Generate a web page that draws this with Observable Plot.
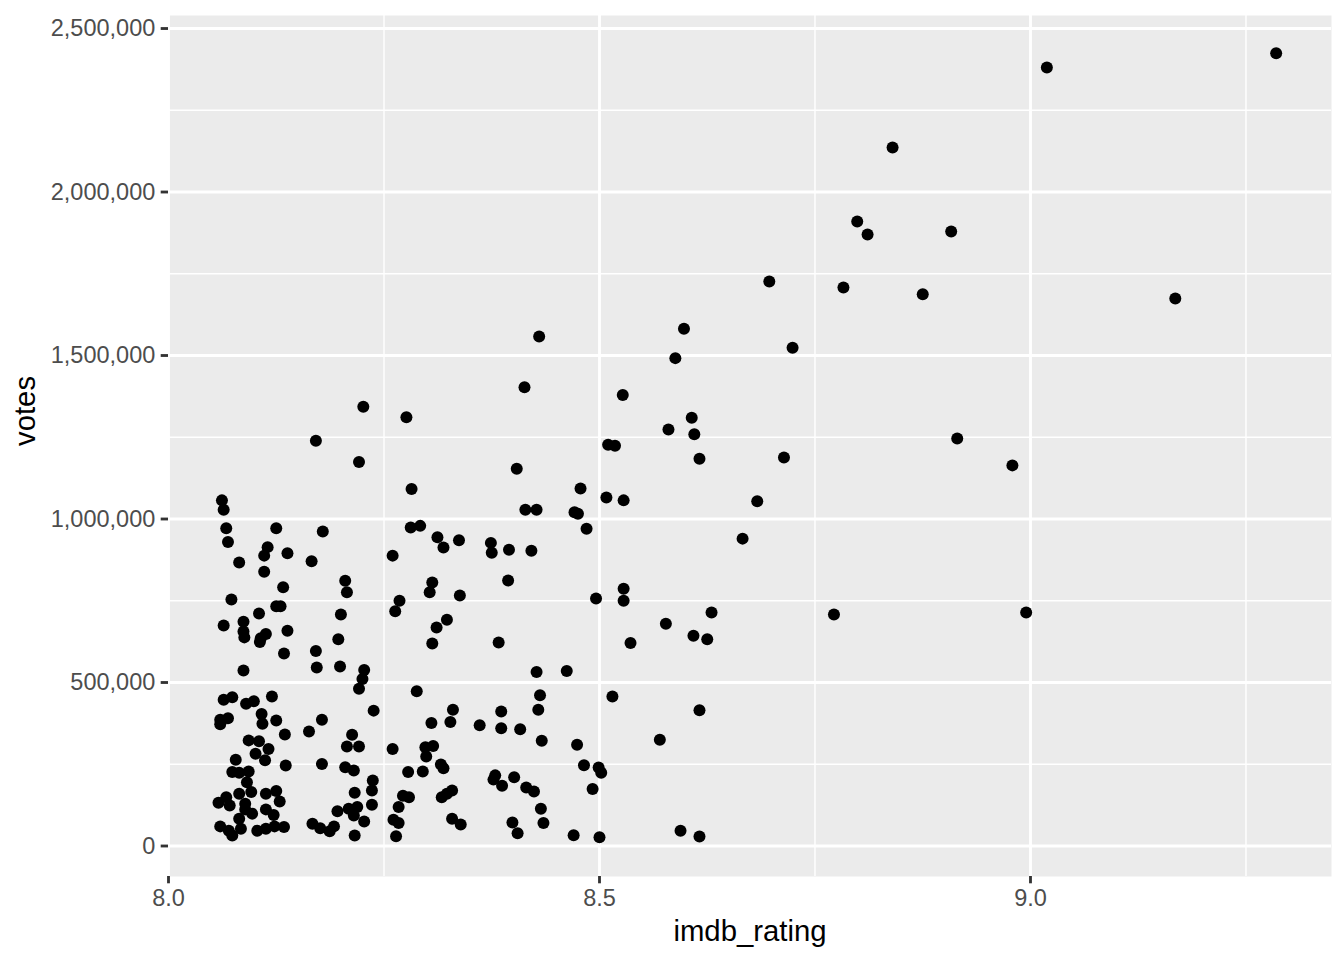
<!DOCTYPE html>
<html>
<head>
<meta charset="utf-8">
<script src="https://cdn.jsdelivr.net/npm/d3@7"></script>
<script src="https://cdn.jsdelivr.net/npm/@observablehq/plot@0.6"></script>
<style>
  html, body { margin: 0; padding: 0; background: #ffffff; }
  #chart { width: 1344px; height: 960px; }
</style>
</head>
<body>
<div id="chart"></div>
<script>
const imdbRating = [
  8.062, 8.064, 8.067, 8.125, 8.179, 8.069, 8.115, 8.111, 8.138, 8.082,
  8.166, 8.111, 8.205, 8.133, 8.207, 8.073, 8.125, 8.130, 8.105, 8.200,
  8.064, 8.087, 8.087, 8.088, 8.113, 8.107, 8.106, 8.138, 8.197, 8.134,
  8.171, 8.087, 8.172, 8.199, 8.227, 8.225, 8.221, 8.238, 8.064, 8.074,
  8.090, 8.099, 8.120, 8.060, 8.069, 8.060, 8.108, 8.109, 8.125, 8.135,
  8.163, 8.178, 8.093, 8.105, 8.116, 8.101, 8.112, 8.213, 8.207, 8.221,
  8.078, 8.136, 8.178, 8.205, 8.215, 8.074, 8.082, 8.093, 8.091, 8.096,
  8.082, 8.067, 8.058, 8.071, 8.089, 8.089, 8.097, 8.082, 8.113, 8.125,
  8.129, 8.113, 8.122, 8.060, 8.070, 8.074, 8.084, 8.103, 8.113, 8.123,
  8.134, 8.237, 8.236, 8.236, 8.216, 8.196, 8.209, 8.219, 8.215, 8.227,
  8.167, 8.176, 8.187, 8.192, 8.216, 8.226, 8.171, 8.221, 8.413, 8.276,
  8.404, 8.282, 8.414, 8.427, 8.281, 8.292, 8.312, 8.319, 8.337, 8.374,
  8.375, 8.395, 8.421, 8.260, 8.306, 8.394, 8.303, 8.338, 8.268, 8.263,
  8.323, 8.311, 8.306, 8.383, 8.427, 8.288, 8.431, 8.429, 8.330, 8.327,
  8.305, 8.361, 8.386, 8.386, 8.408, 8.433, 8.260, 8.298, 8.307, 8.299,
  8.278, 8.295, 8.316, 8.319, 8.379, 8.387, 8.401, 8.415, 8.424, 8.272,
  8.279, 8.267, 8.317, 8.323, 8.329, 8.261, 8.267, 8.264, 8.329, 8.339,
  8.432, 8.399, 8.435, 8.405, 8.377, 8.598, 8.588, 8.527, 8.607, 8.580,
  8.610, 8.510, 8.518, 8.616, 8.478, 8.508, 8.528, 8.471, 8.475, 8.485,
  8.528, 8.496, 8.528, 8.630, 8.577, 8.609, 8.625, 8.536, 8.462, 8.515,
  8.616, 8.570, 8.474, 8.482, 8.499, 8.502, 8.492, 8.470, 8.500, 8.594,
  8.616, 8.430, 9.285, 9.019, 8.840, 8.799, 8.811, 8.908, 8.697, 8.783,
  8.875, 9.168, 8.724, 8.915, 8.979, 8.714, 8.683, 8.666, 8.772, 8.995
];
const votes = [
  1057000, 1028000, 972000, 972000, 962000, 930000, 914000, 888000, 895000, 867000,
  871000, 839000, 811000, 791000, 776000, 754000, 733000, 733000, 711000, 708000,
  674000, 686000, 656000, 638000, 648000, 635000, 624000, 658000, 632000, 589000,
  596000, 537000, 546000, 549000, 538000, 511000, 481000, 414000, 447000, 455000,
  435000, 443000, 457000, 386000, 391000, 372000, 404000, 374000, 384000, 341000,
  350000, 386000, 323000, 320000, 297000, 282000, 262000, 340000, 304000, 304000,
  264000, 246000, 251000, 241000, 231000, 226000, 224000, 228000, 195000, 165000,
  160000, 149000, 132000, 124000, 129000, 112000, 99000, 83000, 160000, 168000,
  136000, 112000, 95000, 60000, 47000, 32000, 53000, 47000, 53000, 60000,
  58000, 200000, 170000, 126000, 163000, 106000, 114000, 119000, 93000, 75000,
  68000, 54000, 45000, 60000, 32000, 1343000, 1239000, 1174000, 1403000, 1311000,
  1154000, 1092000, 1028000, 1028000, 974000, 979000, 944000, 913000, 935000, 927000,
  897000, 906000, 903000, 888000, 806000, 812000, 776000, 766000, 750000, 718000,
  692000, 668000, 619000, 622000, 532000, 473000, 461000, 417000, 417000, 379000,
  376000, 369000, 411000, 360000, 357000, 322000, 297000, 302000, 306000, 274000,
  226000, 228000, 249000, 238000, 216000, 184000, 210000, 179000, 167000, 154000,
  149000, 119000, 149000, 160000, 170000, 80000, 70000, 30000, 83000, 66000,
  114000, 72000, 70000, 39000, 203000, 1582000, 1492000, 1379000, 1310000, 1274000,
  1259000, 1227000, 1224000, 1184000, 1093000, 1066000, 1057000, 1021000, 1016000, 970000,
  787000, 757000, 750000, 714000, 680000, 643000, 632000, 621000, 535000, 457000,
  415000, 325000, 310000, 247000, 240000, 224000, 174000, 33000, 27000, 47000,
  29000, 1558000, 2424000, 2381000, 2136000, 1910000, 1870000, 1879000, 1726000, 1708000,
  1687000, 1674000, 1524000, 1246000, 1164000, 1188000, 1054000, 940000, 708000, 714000
];
const xMajorTicks = [8.0, 8.5, 9.0];
const xMinorTicks = [8.25, 8.75, 9.25];
const yMajorTicks = [0, 500000, 1000000, 1500000, 2000000, 2500000];
const yMinorTicks = [250000, 750000, 1250000, 1750000, 2250000];
const xTitle = "imdb_rating";
const yTitle = "votes";

const movies = imdbRating.map((r, i) => ({imdb_rating: r, votes: votes[i]}));

const chart = Plot.plot({
  width: 1344,
  height: 960,
  marginLeft: 168,
  marginRight: 13,
  marginTop: 15,
  marginBottom: 84,
  style: {fontFamily: "'Liberation Sans', Arial, sans-serif", background: "#ffffff", overflow: "visible"},
  x: {domain: [8.0, 9.3492]},
  y: {domain: [-93270, 2539800]},
  marks: [
    Plot.frame({fill: "#EBEBEB"}),
    Plot.gridX(xMinorTicks, {stroke: "#ffffff", strokeOpacity: 1, strokeWidth: 1.42}),
    Plot.gridY(yMinorTicks, {stroke: "#ffffff", strokeOpacity: 1, strokeWidth: 1.42}),
    Plot.gridX(xMajorTicks, {stroke: "#ffffff", strokeOpacity: 1, strokeWidth: 2.84}),
    Plot.gridY(yMajorTicks, {stroke: "#ffffff", strokeOpacity: 1, strokeWidth: 2.84}),
    Plot.dot(movies, {x: "imdb_rating", y: "votes", r: 6, fill: "#000000", stroke: null}),
    Plot.axisX(xMajorTicks, {
      tickFormat: d3.format(".1f"), tickSize: 7.3, tickPadding: 5.9, fontSize: 23.5,
      stroke: "#333333", strokeWidth: 2.84, fill: "#4D4D4D", label: null
    }),
    Plot.axisY(yMajorTicks, {
      tickFormat: d3.format(","), tickSize: 7.3, tickPadding: 5.9, fontSize: 23.5,
      stroke: "#333333", strokeWidth: 2.84, fill: "#4D4D4D", label: null
    }),
    Plot.text([xTitle], {frameAnchor: "bottom", lineAnchor: "middle", dy: 55, text: d => d, fontSize: 29.3, fill: "#000000"}),
    Plot.text([yTitle], {frameAnchor: "left", lineAnchor: "middle", dx: -142.5, rotate: -90, text: d => d, fontSize: 29.3, fill: "#000000"})
  ]
});
document.getElementById("chart").appendChild(chart);
</script>
</body>
</html>
